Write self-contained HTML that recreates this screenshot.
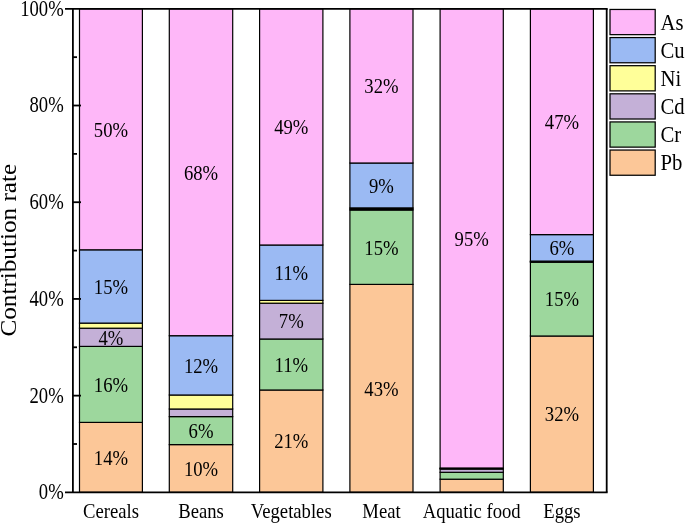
<!DOCTYPE html>
<html><head><meta charset="utf-8"><title>Contribution rate</title>
<style>
html,body{margin:0;padding:0;background:#fff;}
svg{display:block;will-change:transform;}
text{font-family:"Liberation Serif",serif;fill:#000;}
</style></head><body>
<svg width="685" height="523" viewBox="0 0 685 523">
<rect width="685" height="523" fill="#fff"/>
<rect x="79.50" y="422.40" width="62.90" height="69.95" fill="#fcc798" stroke="#000" stroke-width="1.2"/>
<rect x="79.50" y="346.40" width="62.90" height="76.00" fill="#9dd79d" stroke="#000" stroke-width="1.2"/>
<rect x="79.50" y="328.20" width="62.90" height="18.20" fill="#c4b0d7" stroke="#000" stroke-width="1.2"/>
<rect x="79.50" y="323.10" width="62.90" height="5.10" fill="#ffff99" stroke="#000" stroke-width="1.2"/>
<rect x="79.50" y="249.80" width="62.90" height="73.30" fill="#9bbaf3" stroke="#000" stroke-width="1.2"/>
<rect x="79.50" y="8.80" width="62.90" height="241.00" fill="#feb7f8" stroke="#000" stroke-width="1.2"/>
<text transform="translate(110.95,464.68) scale(1,1.175)" font-size="18.67" text-anchor="middle">14%</text>
<text transform="translate(110.95,391.70) scale(1,1.175)" font-size="18.67" text-anchor="middle">16%</text>
<text transform="translate(110.95,344.60) scale(1,1.175)" font-size="18.67" text-anchor="middle">4%</text>
<text transform="translate(110.95,293.75) scale(1,1.175)" font-size="18.67" text-anchor="middle">15%</text>
<text transform="translate(110.95,136.60) scale(1,1.175)" font-size="18.67" text-anchor="middle">50%</text>
<text transform="translate(110.95,518.30) scale(1,1.16)" font-size="18.67" text-anchor="middle">Cereals</text>
<rect x="169.30" y="444.60" width="63.40" height="47.75" fill="#fcc798" stroke="#000" stroke-width="1.2"/>
<rect x="169.30" y="416.60" width="63.40" height="28.00" fill="#9dd79d" stroke="#000" stroke-width="1.2"/>
<rect x="169.30" y="409.00" width="63.40" height="7.60" fill="#c4b0d7" stroke="#000" stroke-width="1.2"/>
<rect x="169.30" y="395.00" width="63.40" height="14.00" fill="#ffff99" stroke="#000" stroke-width="1.2"/>
<rect x="169.30" y="335.70" width="63.40" height="59.30" fill="#9bbaf3" stroke="#000" stroke-width="1.2"/>
<rect x="169.30" y="8.80" width="63.40" height="326.90" fill="#feb7f8" stroke="#000" stroke-width="1.2"/>
<text transform="translate(201.00,475.78) scale(1,1.175)" font-size="18.67" text-anchor="middle">10%</text>
<text transform="translate(201.00,437.90) scale(1,1.175)" font-size="18.67" text-anchor="middle">6%</text>
<text transform="translate(201.00,372.65) scale(1,1.175)" font-size="18.67" text-anchor="middle">12%</text>
<text transform="translate(201.00,179.55) scale(1,1.175)" font-size="18.67" text-anchor="middle">68%</text>
<text transform="translate(201.00,518.30) scale(1,1.16)" font-size="18.67" text-anchor="middle">Beans</text>
<rect x="259.60" y="390.00" width="63.30" height="102.35" fill="#fcc798" stroke="#000" stroke-width="1.2"/>
<rect x="259.60" y="339.00" width="63.30" height="51.00" fill="#9dd79d" stroke="#000" stroke-width="1.2"/>
<rect x="259.60" y="303.20" width="63.30" height="35.80" fill="#c4b0d7" stroke="#000" stroke-width="1.2"/>
<rect x="259.60" y="300.40" width="63.30" height="2.80" fill="#ffff99" stroke="#000" stroke-width="1.2"/>
<rect x="259.60" y="245.00" width="63.30" height="55.40" fill="#9bbaf3" stroke="#000" stroke-width="1.2"/>
<rect x="259.60" y="8.80" width="63.30" height="236.20" fill="#feb7f8" stroke="#000" stroke-width="1.2"/>
<text transform="translate(291.25,448.48) scale(1,1.175)" font-size="18.67" text-anchor="middle">21%</text>
<text transform="translate(291.25,371.80) scale(1,1.175)" font-size="18.67" text-anchor="middle">11%</text>
<text transform="translate(291.25,328.40) scale(1,1.175)" font-size="18.67" text-anchor="middle">7%</text>
<text transform="translate(291.25,280.00) scale(1,1.175)" font-size="18.67" text-anchor="middle">11%</text>
<text transform="translate(291.25,134.20) scale(1,1.175)" font-size="18.67" text-anchor="middle">49%</text>
<text transform="translate(291.25,518.30) scale(1,1.16)" font-size="18.67" text-anchor="middle">Vegetables</text>
<rect x="349.90" y="284.40" width="63.10" height="207.95" fill="#fcc798" stroke="#000" stroke-width="1.2"/>
<rect x="349.90" y="210.00" width="63.10" height="74.40" fill="#9dd79d" stroke="#000" stroke-width="1.2"/>
<rect x="349.90" y="209.00" width="63.10" height="1.00" fill="#c4b0d7" stroke="#000" stroke-width="1.2"/>
<rect x="349.90" y="207.90" width="63.10" height="1.10" fill="#ffff99" stroke="#000" stroke-width="1.2"/>
<rect x="349.90" y="163.00" width="63.10" height="44.90" fill="#9bbaf3" stroke="#000" stroke-width="1.2"/>
<rect x="349.90" y="8.80" width="63.10" height="154.20" fill="#feb7f8" stroke="#000" stroke-width="1.2"/>
<text transform="translate(381.45,395.68) scale(1,1.175)" font-size="18.67" text-anchor="middle">43%</text>
<text transform="translate(381.45,254.50) scale(1,1.175)" font-size="18.67" text-anchor="middle">15%</text>
<text transform="translate(381.45,192.75) scale(1,1.175)" font-size="18.67" text-anchor="middle">9%</text>
<text transform="translate(381.45,93.20) scale(1,1.175)" font-size="18.67" text-anchor="middle">32%</text>
<text transform="translate(381.45,518.30) scale(1,1.16)" font-size="18.67" text-anchor="middle">Meat</text>
<rect x="440.10" y="479.20" width="63.20" height="13.15" fill="#fcc798" stroke="#000" stroke-width="1.2"/>
<rect x="440.10" y="472.30" width="63.20" height="6.90" fill="#9dd79d" stroke="#000" stroke-width="1.2"/>
<rect x="440.10" y="469.00" width="63.20" height="3.30" fill="#c4b0d7" stroke="#000" stroke-width="1.2"/>
<rect x="440.10" y="468.60" width="63.20" height="0.40" fill="#ffff99" stroke="#000" stroke-width="1.2"/>
<rect x="440.10" y="468.00" width="63.20" height="0.60" fill="#9bbaf3" stroke="#000" stroke-width="1.2"/>
<rect x="440.10" y="8.80" width="63.20" height="459.20" fill="#feb7f8" stroke="#000" stroke-width="1.2"/>
<text transform="translate(471.70,245.70) scale(1,1.175)" font-size="18.67" text-anchor="middle">95%</text>
<text transform="translate(471.70,518.30) scale(1,1.16)" font-size="18.67" text-anchor="middle">Aquatic food</text>
<rect x="530.40" y="336.00" width="63.00" height="156.35" fill="#fcc798" stroke="#000" stroke-width="1.2"/>
<rect x="530.40" y="262.20" width="63.00" height="73.80" fill="#9dd79d" stroke="#000" stroke-width="1.2"/>
<rect x="530.40" y="261.70" width="63.00" height="0.50" fill="#c4b0d7" stroke="#000" stroke-width="1.2"/>
<rect x="530.40" y="261.10" width="63.00" height="0.60" fill="#ffff99" stroke="#000" stroke-width="1.2"/>
<rect x="530.40" y="234.60" width="63.00" height="26.50" fill="#9bbaf3" stroke="#000" stroke-width="1.2"/>
<rect x="530.40" y="8.80" width="63.00" height="225.80" fill="#feb7f8" stroke="#000" stroke-width="1.2"/>
<text transform="translate(561.90,421.48) scale(1,1.175)" font-size="18.67" text-anchor="middle">32%</text>
<text transform="translate(561.90,306.40) scale(1,1.175)" font-size="18.67" text-anchor="middle">15%</text>
<text transform="translate(561.90,255.15) scale(1,1.175)" font-size="18.67" text-anchor="middle">6%</text>
<text transform="translate(561.90,129.00) scale(1,1.175)" font-size="18.67" text-anchor="middle">47%</text>
<text transform="translate(561.90,518.30) scale(1,1.16)" font-size="18.67" text-anchor="middle">Eggs</text>
<g stroke="#000" stroke-width="1.8" fill="none">
<line x1="65" y1="8.8" x2="607.6500000000001" y2="8.8"/>
<line x1="65" y1="492.35" x2="607.6500000000001" y2="492.35"/>
<line x1="72.9" y1="8.8" x2="72.9" y2="492.35"/>
<line x1="606.7" y1="8.8" x2="606.7" y2="492.35"/>
<line x1="72.9" y1="444.00" x2="77" y2="444.00"/>
<line x1="72.9" y1="395.64" x2="81" y2="395.64"/>
<line x1="72.9" y1="347.29" x2="77" y2="347.29"/>
<line x1="72.9" y1="298.93" x2="81" y2="298.93"/>
<line x1="72.9" y1="250.58" x2="77" y2="250.58"/>
<line x1="72.9" y1="202.22" x2="81" y2="202.22"/>
<line x1="72.9" y1="153.87" x2="77" y2="153.87"/>
<line x1="72.9" y1="105.51" x2="81" y2="105.51"/>
<line x1="72.9" y1="57.16" x2="77" y2="57.16"/>
</g>
<text transform="translate(63.70,499.25) scale(1,1.22)" font-size="18.67" text-anchor="end">0%</text>
<text transform="translate(63.70,402.54) scale(1,1.22)" font-size="18.67" text-anchor="end">20%</text>
<text transform="translate(63.70,305.83) scale(1,1.22)" font-size="18.67" text-anchor="end">40%</text>
<text transform="translate(63.70,209.12) scale(1,1.22)" font-size="18.67" text-anchor="end">60%</text>
<text transform="translate(63.70,112.41) scale(1,1.22)" font-size="18.67" text-anchor="end">80%</text>
<text transform="translate(63.70,15.70) scale(1,1.22)" font-size="18.67" text-anchor="end">100%</text>
<text transform="translate(16.2,250.2) rotate(-90) scale(1.068,1)" font-size="23.6" text-anchor="middle">Contribution rate</text>
<rect x="610.0" y="9.45" width="45.2" height="25.2" fill="#feb7f8" stroke="#000" stroke-width="1.25"/>
<text transform="translate(660.50,29.75) scale(1,1.16)" font-size="20.7" text-anchor="start">As</text>
<rect x="610.0" y="37.57" width="45.2" height="25.2" fill="#9bbaf3" stroke="#000" stroke-width="1.25"/>
<text transform="translate(660.50,57.87) scale(1,1.16)" font-size="20.7" text-anchor="start">Cu</text>
<rect x="610.0" y="65.69" width="45.2" height="25.2" fill="#ffff99" stroke="#000" stroke-width="1.25"/>
<text transform="translate(660.50,85.99) scale(1,1.16)" font-size="20.7" text-anchor="start">Ni</text>
<rect x="610.0" y="93.81" width="45.2" height="25.2" fill="#c4b0d7" stroke="#000" stroke-width="1.25"/>
<text transform="translate(660.50,114.11) scale(1,1.16)" font-size="20.7" text-anchor="start">Cd</text>
<rect x="610.0" y="121.93" width="45.2" height="25.2" fill="#9dd79d" stroke="#000" stroke-width="1.25"/>
<text transform="translate(660.50,142.23) scale(1,1.16)" font-size="20.7" text-anchor="start">Cr</text>
<rect x="610.0" y="150.05" width="45.2" height="25.2" fill="#fcc798" stroke="#000" stroke-width="1.25"/>
<text transform="translate(660.50,170.35) scale(1,1.16)" font-size="20.7" text-anchor="start">Pb</text>
</svg></body></html>
